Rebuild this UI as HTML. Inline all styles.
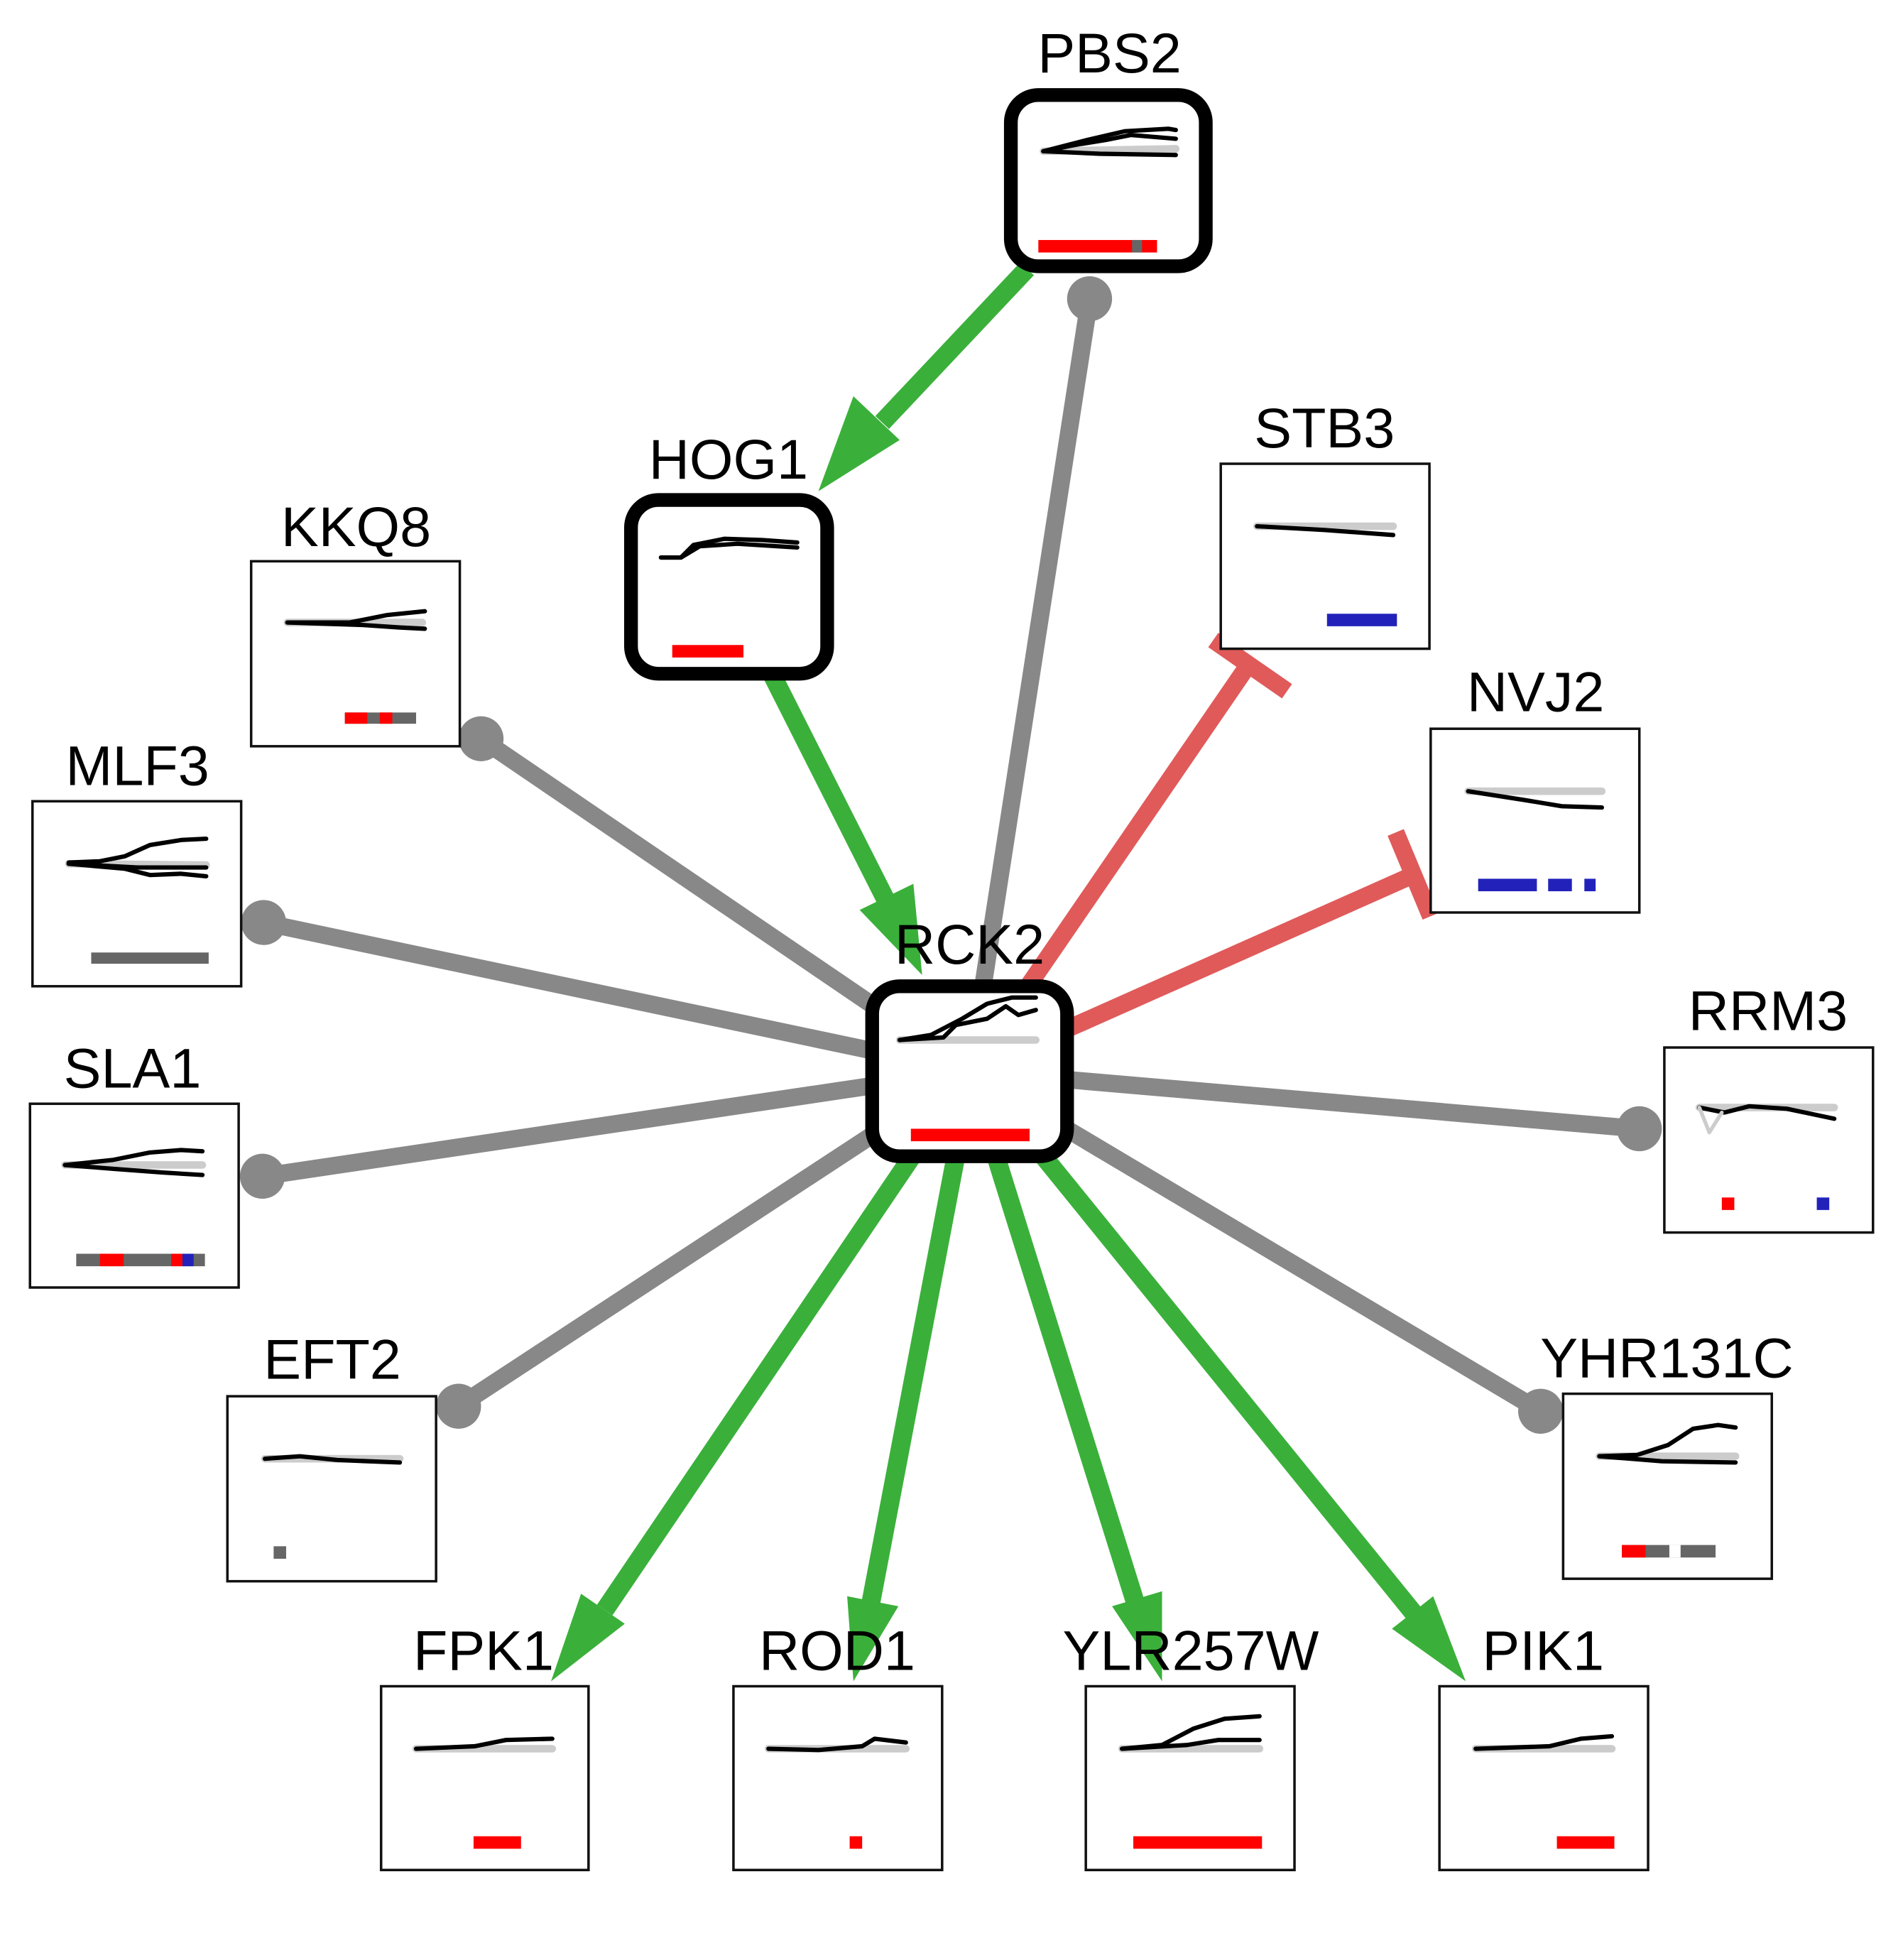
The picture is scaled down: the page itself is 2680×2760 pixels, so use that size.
<!DOCTYPE html>
<html><head><meta charset="utf-8"><style>html,body{margin:0;padding:0;background:#fff}svg{display:block}</style></head>
<body>
<svg width="2680" height="2760" viewBox="0 0 1523 1568" preserveAspectRatio="none" xmlns="http://www.w3.org/2000/svg" font-family="Liberation Sans, sans-serif">
<g stroke-linecap="butt">
<g stroke="#888" stroke-width="14" fill="#888">
<line x1="776" y1="857" x2="385" y2="591"/><circle cx="385" cy="591" r="18" stroke="none"/>
<line x1="776" y1="857" x2="211" y2="738"/><circle cx="211" cy="738" r="18" stroke="none"/>
<line x1="776" y1="857" x2="210" y2="941"/><circle cx="210" cy="941" r="18" stroke="none"/>
<line x1="776" y1="857" x2="367" y2="1125"/><circle cx="367" cy="1125" r="18" stroke="none"/>
<line x1="776" y1="857" x2="1312" y2="903"/><circle cx="1312" cy="903" r="18" stroke="none"/>
<line x1="776" y1="857" x2="1233" y2="1129"/><circle cx="1233" cy="1129" r="18" stroke="none"/>
<line x1="785" y1="800" x2="872" y2="239"/><circle cx="872" cy="239" r="18" stroke="none"/>
</g>
<g stroke="#e05a5a" stroke-width="14" fill="none">
<line x1="822" y1="790" x2="999" y2="532"/><line x1="971" y1="512" x2="1030" y2="553"/>
<line x1="850" y1="825" x2="1131" y2="700"/><line x1="1117" y1="666" x2="1145" y2="733"/>
</g>
<g stroke="#3ab03a" stroke-width="15" fill="#3ab03a">
<line x1="822" y1="215" x2="706" y2="338"/><polygon points="655,393 683,317 720,352" stroke="none"/>
<line x1="618" y1="540" x2="709" y2="720"/><polygon points="738,780 688,728 731,707" stroke="none"/>
<line x1="730" y1="925" x2="484" y2="1288"/><polygon points="441,1345 465,1275 500,1299" stroke="none"/>
<line x1="765" y1="925" x2="697" y2="1282"/><polygon points="683,1345 678,1277 719,1285" stroke="none"/>
<line x1="797" y1="925" x2="908" y2="1280"/><polygon points="930,1345 890,1285 930,1273" stroke="none"/>
<line x1="835" y1="925" x2="1131" y2="1290"/><polygon points="1173,1345 1114,1303 1147,1277" stroke="none"/>
</g>
</g>

<g fill="#fff" stroke="#000" stroke-width="11">
<rect x="809" y="76" width="156" height="137" rx="22"/>
<rect x="505" y="400" width="157" height="139" rx="22"/>
<rect x="698" y="789" width="156" height="136" rx="22"/>
</g>
<g fill="#fff" stroke="#111" stroke-width="2">
<rect x="201" y="449" width="167" height="148"/>
<rect x="26" y="641" width="167" height="148"/>
<rect x="24" y="883" width="167" height="147"/>
<rect x="182" y="1117" width="167" height="148"/>
<rect x="305" y="1349" width="166" height="147"/>
<rect x="587" y="1349" width="167" height="147"/>
<rect x="869" y="1349" width="167" height="147"/>
<rect x="1152" y="1349" width="167" height="147"/>
<rect x="1251" y="1115" width="167" height="148"/>
<rect x="1332" y="838" width="167" height="148"/>
<rect x="1145" y="583" width="167" height="147"/>
<rect x="977" y="371" width="167" height="148"/>
</g>

<g fill="none" stroke-linecap="round" stroke-linejoin="round">
<g stroke="#ccc" stroke-width="6">
<path d="M835,121 L941,119"/>
<path d="M720,832 L829,832"/>
<path d="M230,498 L338,498"/>
<path d="M55,691 L165,692"/>
<path d="M52,932 L162,932"/>
<path d="M212,1167 L320,1167"/>
<path d="M333,1399 L442,1399"/>
<path d="M615,1399 L725,1399"/>
<path d="M898,1399 L1008,1399"/>
<path d="M1181,1399 L1290,1399"/>
<path d="M1280,1165 L1389,1165"/>
<path d="M1360,886 L1468,886"/>
<path d="M1175,633 L1282,633"/>
<path d="M1006,421 L1115,421"/>
</g>
<g stroke="#000" stroke-width="3.5">
<path d="M835,121 L870,112 L900,105 L935,103 L941,104"/>
<path d="M835,121 L860,116 L885,112 L905,108 L941,111"/>
<path d="M835,121 L880,123 L941,124"/>
<path d="M720,832 L745,828 L770,815 L790,803 L810,798 L829,798"/>
<path d="M720,832 L755,830 L765,820 L790,815 L805,805 L815,812 L829,808"/>
<path d="M529,446 L545,446 L555,436 L580,431 L610,432 L638,434"/>
<path d="M529,446 L545,446 L560,437 L590,435 L638,438"/>
<path d="M230,498 L280,498 L310,492 L340,489"/>
<path d="M230,498 L290,500 L320,502 L340,503"/>
<path d="M55,690 L80,689 L100,685 L120,676 L145,672 L165,671"/>
<path d="M55,691 L100,695 L120,700 L145,699 L165,701"/>
<path d="M55,691 L110,694 L165,694"/>
<path d="M52,932 L90,928 L120,922 L145,920 L162,921"/>
<path d="M52,932 L90,935 L130,938 L162,940"/>
<path d="M212,1167 L240,1165 L270,1168 L320,1170"/>
<path d="M333,1399 L380,1397 L405,1392 L442,1391"/>
<path d="M615,1399 L655,1400 L690,1397 L700,1391 L725,1394"/>
<path d="M898,1399 L930,1396 L955,1383 L980,1375 L1008,1373"/>
<path d="M898,1399 L950,1396 L975,1392 L1008,1392"/>
<path d="M1181,1399 L1240,1397 L1265,1391 L1290,1389"/>
<path d="M1280,1165 L1310,1164 L1335,1156 L1355,1143 L1375,1140 L1389,1142"/>
<path d="M1280,1165 L1330,1169 L1389,1170"/>
<path d="M1360,886 L1380,890 L1400,885 L1430,887 L1468,895"/>
<path d="M1175,633 L1220,640 L1250,645 L1282,646"/>
<path d="M1006,421 L1060,424 L1115,428"/>
</g>
<path d="M1360,886 L1368,906 L1378,890" stroke="#ccc" stroke-width="3"/>
</g>

<g>
<rect x="831" y="192" width="95" height="10" fill="#f00"/><rect x="906" y="192" width="8" height="10" fill="#666"/>
<rect x="538" y="516" width="57" height="10" fill="#f00"/>
<rect x="729" y="903" width="95" height="10" fill="#f00"/>
<rect x="276" y="570" width="57" height="9" fill="#666"/><rect x="276" y="570" width="18" height="9" fill="#f00"/><rect x="304" y="570" width="10" height="9" fill="#f00"/>
<rect x="73" y="762" width="94" height="9" fill="#666"/>
<rect x="61" y="1003" width="103" height="10" fill="#666"/><rect x="80" y="1003" width="19" height="10" fill="#f00"/><rect x="137" y="1003" width="9" height="10" fill="#f00"/><rect x="146" y="1003" width="9" height="10" fill="#22b"/>
<rect x="219" y="1237" width="10" height="10" fill="#666"/>
<rect x="379" y="1469" width="38" height="10" fill="#f00"/>
<rect x="680" y="1469" width="10" height="10" fill="#f00"/>
<rect x="907" y="1469" width="103" height="10" fill="#f00"/>
<rect x="1246" y="1469" width="46" height="10" fill="#f00"/>
<rect x="1298" y="1236" width="75" height="10" fill="#666"/><rect x="1298" y="1236" width="19" height="10" fill="#f00"/><rect x="1336" y="1236" width="9" height="10" fill="#fff"/>
<rect x="1378" y="958" width="10" height="10" fill="#f00"/><rect x="1454" y="958" width="10" height="10" fill="#22b"/>
<rect x="1183" y="703" width="47" height="10" fill="#22b"/><rect x="1239" y="703" width="19" height="10" fill="#22b"/><rect x="1268" y="703" width="9" height="10" fill="#22b"/>
<rect x="1062" y="491" width="56" height="10" fill="#22b"/>
</g>

<g font-size="45" text-anchor="middle" fill="#000">
<text x="888" y="58">PBS2</text>
<text x="583" y="383">HOG1</text>
<text x="285" y="437">KKQ8</text>
<text x="110" y="628">MLF3</text>
<text x="106" y="870">SLA1</text>
<text x="266" y="1103">EFT2</text>
<text x="387" y="1336">FPK1</text>
<text x="670" y="1336">ROD1</text>
<text x="953" y="1336">YLR257W</text>
<text x="1235" y="1336">PIK1</text>
<text x="1334" y="1102">YHR131C</text>
<text x="1415" y="824">RRM3</text>
<text x="1229" y="569">NVJ2</text>
<text x="1060" y="358">STB3</text>
<text x="776" y="771">RCK2</text>
</g>
</svg>
</body></html>
